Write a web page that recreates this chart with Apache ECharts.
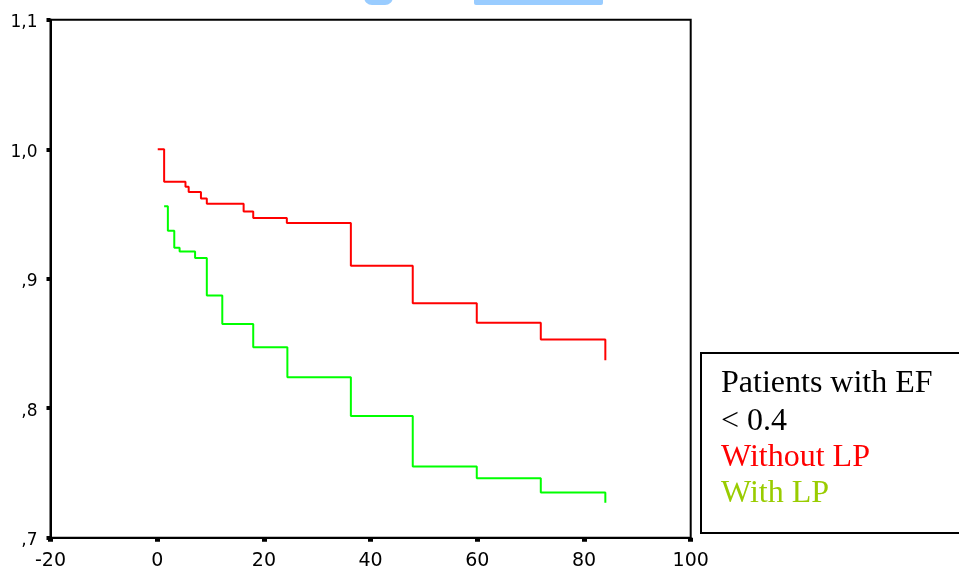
<!DOCTYPE html>
<html>
<head>
<meta charset="utf-8">
<script src="https://cdn.jsdelivr.net/npm/echarts@6/dist/echarts.min.js"></script>
<style>
html,body{margin:0;padding:0;background:#fff;}
#chart{width:959px;height:572px;}
</style>
</head>
<body>
<div id="chart"></div>
<script>
// Kaplan-Meier style step data (time in months, cumulative survival)
const withoutLPTimes = [0.1, 1.3, 5.3, 5.9, 8.2, 9.3, 16.2, 18.0, 24.3, 36.3, 47.9, 59.9, 71.9, 84.0];
const withoutLPSurv  = [1.000, 0.975, 0.971, 0.967, 0.962, 0.958, 0.952, 0.947, 0.943, 0.910, 0.881, 0.866, 0.853, 0.837];
const withLPTimes    = [1.3, 2.0, 3.2, 4.2, 7.1, 9.3, 12.2, 18.0, 24.4, 36.3, 47.9, 59.9, 71.9, 84.0];
const withLPSurv     = [0.956, 0.937, 0.924, 0.921, 0.916, 0.887, 0.865, 0.847, 0.824, 0.794, 0.755, 0.746, 0.735, 0.727];

const xTickValues = [-20, 0, 20, 40, 60, 80, 100];
const yTickValues = [0.7, 0.8, 0.9, 1.0, 1.1];
const yTickLabels = [',7', ',8', ',9', '1,0', '1,1'];

const legendLines = ['Patients with EF', '< 0.4', 'Without LP', 'With LP'];

function pairs(xs, ys) { return xs.map((x, i) => [x, ys[i]]); }
function yLabel(v) {
  const idx = yTickValues.findIndex(t => Math.abs(t - v) < 1e-6);
  return idx >= 0 ? yTickLabels[idx] : '';
}

const chart = echarts.init(document.getElementById('chart'), null, {renderer: 'canvas'});

const legendColors = ['#000000', '#000000', '#ff0000', '#99cc00'];
const legendBaselines = [393, 431, 467, 503];

const graphics = [
  {type: 'rect', shape: {x: 364, y: -6, width: 29, height: 11, r: [0, 0, 8, 8]}, style: {fill: '#99ccff'}, silent: true},
  {type: 'rect', shape: {x: 474, y: -6, width: 129, height: 11, r: [0, 0, 2, 2]}, style: {fill: '#99ccff'}, silent: true},
  {type: 'rect', shape: {x: 701, y: 353, width: 270, height: 180}, style: {fill: '#fff', stroke: '#000', lineWidth: 2}, silent: true}
];
legendLines.forEach((t, i) => {
  graphics.push({
    type: 'text', x: 721, y: legendBaselines[i] + 7, silent: true,
    style: {text: t, fill: legendColors[i], font: '32px "Liberation Serif", "Times New Roman", serif', verticalAlign: 'bottom'}
  });
});

chart.setOption({
  animation: false,
  backgroundColor: '#fff',
  grid: {left: 50.5, right: 268.3, top: 19.8, bottom: 34.3, show: true, borderColor: '#000', borderWidth: 2, backgroundColor: 'transparent'},
  xAxis: {
    type: 'value', min: xTickValues[0], max: xTickValues[xTickValues.length - 1], interval: 20,
    splitLine: {show: false},
    axisLine: {show: true, onZero: false, lineStyle: {color: '#000', width: 2}},
    axisTick: {show: true, length: 4, lineStyle: {color: '#000', width: 5}},
    axisLabel: {color: '#000', fontSize: 19, fontFamily: '"DejaVu Sans", sans-serif', margin: 14}
  },
  yAxis: {
    type: 'value', min: yTickValues[0], max: yTickValues[yTickValues.length - 1], interval: 0.1,
    splitLine: {show: false},
    axisLine: {show: true, onZero: false, lineStyle: {color: '#000', width: 2}},
    axisTick: {show: true, length: 4, lineStyle: {color: '#000', width: 4}},
    axisLabel: {color: '#000', fontSize: 17, fontFamily: '"DejaVu Sans", sans-serif', margin: 13, verticalAlign: 'top', lineHeight: 6, formatter: yLabel}
  },
  series: [
    {name: 'Without LP', type: 'line', step: 'end', symbol: 'none', data: pairs(withoutLPTimes, withoutLPSurv), lineStyle: {color: '#ff0000', width: 2}, itemStyle: {color: '#ff0000'}},
    {name: 'With LP', type: 'line', step: 'end', symbol: 'none', data: pairs(withLPTimes, withLPSurv), lineStyle: {color: '#00ff00', width: 2}, itemStyle: {color: '#00ff00'}}
  ],
  graphic: graphics
});
</script>
</body>
</html>
